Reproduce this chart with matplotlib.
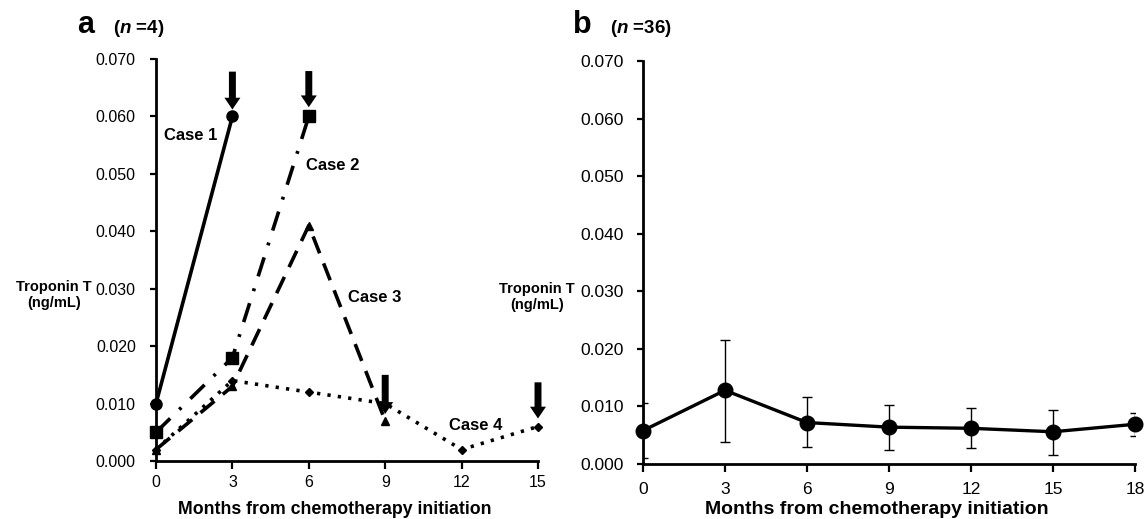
import matplotlib
matplotlib.use("Agg")
import matplotlib.pyplot as plt

plt.rcParams['font.family'] = ['Liberation Sans', 'DejaVu Sans']
plt.rcParams['mathtext.fontset'] = 'custom'
plt.rcParams['mathtext.bfit'] = 'Liberation Sans:italic:bold'
plt.rcParams['mathtext.it'] = 'Liberation Sans:italic'
plt.rcParams['mathtext.bf'] = 'Liberation Sans:bold'
plt.rcParams['mathtext.rm'] = 'Liberation Sans'

# ---------------- data: panel a (individual cases) ----------------
case1_months = [0, 3]
case1_values = [0.010, 0.060]
case2_months = [0, 3, 6]
case2_values = [0.005, 0.018, 0.060]
case3_months = [0, 3, 6, 9]
case3_values = [0.002, 0.013, 0.041, 0.007]
case4_months = [0, 3, 6, 9, 12, 15]
case4_values = [0.002, 0.014, 0.012, 0.010, 0.002, 0.006]
case_labels = ["Case 1", "Case 2", "Case 3", "Case 4"]

# event arrows (month, arrow top, arrow tip)
arrow_months = [3, 6, 9, 15]
arrow_tops = [0.0678, 0.0679, 0.0150, 0.0137]
arrow_tips = [0.0612, 0.0616, 0.0082, 0.0074]

# ---------------- data: panel b (mean +/- SD, n=36) ----------------
b_months = [0, 3, 6, 9, 12, 15, 18]
b_mean = [0.0058, 0.0128, 0.0072, 0.0064, 0.0062, 0.0056, 0.0069]
b_lower = [0.0010, 0.0038, 0.0029, 0.0024, 0.0028, 0.0016, 0.0049]
b_upper = [0.0106, 0.0215, 0.0117, 0.0103, 0.0097, 0.0094, 0.0089]

a_xticks = [0, 3, 6, 9, 12, 15]
b_xticks = [0, 3, 6, 9, 12, 15, 18]
yticks = [0.000, 0.010, 0.020, 0.030, 0.040, 0.050, 0.060, 0.070]
ytick_labels = [f"{v:.3f}" for v in yticks]
xlabel = "Months from chemotherapy initiation"
ylabel = "Troponin T\n(ng/mL)"

W, H = 1148, 519
fig = plt.figure(figsize=(W / 100, H / 100), dpi=100)


def px_axes(left, top, right, bottom):
    return fig.add_axes([left / W, (H - bottom) / H, (right - left) / W, (bottom - top) / H])


def style_axes(ax, xticks, xmax, tick_size, pad_x, pad_y):
    ax.set_xlim(0, xmax)
    ax.set_ylim(0, 0.070)
    ax.set_xticks(xticks)
    ax.set_yticks(yticks)
    ax.set_yticklabels(ytick_labels)
    for s in ("top", "right"):
        ax.spines[s].set_visible(False)
    for s in ("left", "bottom"):
        ax.spines[s].set_linewidth(2.0)
    ax.tick_params(axis='y', direction='out', length=4, width=1.6, labelsize=tick_size, pad=pad_y)
    ax.tick_params(axis='x', direction='out', length=6, width=1.6, labelsize=tick_size, pad=pad_x)


# ---------------- panel a ----------------
axa = px_axes(156, 59, 538, 461)
style_axes(axa, a_xticks, 15, 11.5, 4, 10.5)

axa.plot(case1_months, case1_values, color='black', lw=2.6, ls='-',
         marker='o', ms=8, clip_on=False, zorder=3)
axa.plot(case2_months, case2_values, color='black', lw=2.6, ls=(0, (5.5, 3.5, 0.8, 3.5)),
         marker='s', ms=9, clip_on=False, zorder=3)
axa.plot(case3_months, case3_values, color='black', lw=2.6, ls=(0, (5, 3)),
         marker='^', ms=6, clip_on=False, zorder=3)
axa.plot(case4_months, case4_values, color='black', lw=2.6, ls=(0, (0.9, 2.0)),
         marker='D', ms=4, clip_on=False, zorder=3)

label_pos = [(1.35, 0.0566), (6.95, 0.0514), (8.6, 0.0285), (12.55, 0.0062)]
for lab, (lx, ly) in zip(case_labels, label_pos):
    axa.text(lx, ly, lab, fontsize=12, fontweight='bold', ha='center', va='center')

for mx, yt, yb in zip(arrow_months, arrow_tops, arrow_tips):
    axa.annotate('', xy=(mx, yb), xytext=(mx, yt), annotation_clip=False,
                 arrowprops=dict(arrowstyle='simple,head_length=0.85,head_width=1.15,tail_width=0.5',
                                 mutation_scale=10, color='black', shrinkA=0, shrinkB=0, lw=0))

fig.text(335 / W, (H - 510) / H, xlabel, fontsize=12.8, fontweight='bold', ha='center', va='center')
fig.text(54 / W, (H - 295) / H, ylabel, fontsize=10.5, fontweight='bold', ha='center', va='center',
         multialignment='center', linespacing=1.25)

# ---------------- panel b ----------------
axb = px_axes(643, 61, 1135, 464)
style_axes(axb, b_xticks, 18, 12.5, 7, 10)

yerr = [[m - lo for m, lo in zip(b_mean, b_lower)], [up - m for m, up in zip(b_mean, b_upper)]]
axb.errorbar(b_months, b_mean, yerr=yerr, fmt='none', ecolor='black', elinewidth=1.0,
             capsize=3.5, capthick=1.0, zorder=2)
axb.plot(b_months, b_mean, color='black', lw=2.4, marker='o', ms=10.5, clip_on=False, zorder=3)

fig.text(877 / W, (H - 509) / H, xlabel, fontsize=14, fontweight='bold', ha='center', va='center')
fig.text(537 / W, (H - 297) / H, ylabel, fontsize=10.5, fontweight='bold', ha='center', va='center',
         multialignment='center', linespacing=1.25)

# ---------------- panel letters ----------------
fig.text(77 / W, (H - 33) / H, "a", fontsize=22, fontweight='bold', ha='left', va='baseline')
fig.text(113 / W, (H - 33) / H, r"($\mathbfit{n}$ =4)", fontsize=13.5, fontweight='bold',
         ha='left', va='baseline')
fig.text(573 / W, (H - 33) / H, "b", fontsize=22, fontweight='bold', ha='left', va='baseline')
fig.text(610 / W, (H - 33) / H, r"($\mathbfit{n}$ =36)", fontsize=13.5, fontweight='bold',
         ha='left', va='baseline')

fig.savefig("out.png", dpi=100)
